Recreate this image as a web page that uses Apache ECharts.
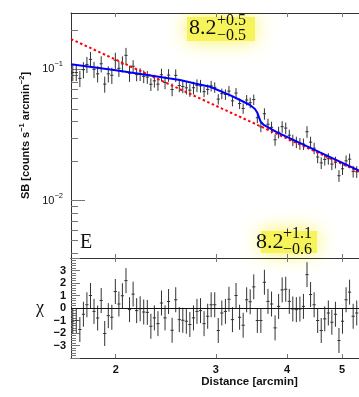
<!DOCTYPE html>
<html>
<head>
<meta charset="utf-8">
<script src="https://cdn.jsdelivr.net/npm/echarts@6/dist/echarts.min.js"></script>
<style>
  html, body { margin: 0; padding: 0; background: #fff; }
  #chart { width: 359px; height: 397px; }
</style>
</head>
<body>
<div id="chart"></div>
<script>
// surface brightness profile, distance in arcmin
const radius = [
  1.681, 1.705, 1.730, 1.755, 1.780, 1.806, 1.832, 1.859, 1.886, 1.913,
  1.941, 1.969, 1.997, 2.026, 2.055, 2.085, 2.115, 2.146, 2.177, 2.208,
  2.240, 2.273, 2.306, 2.339, 2.373, 2.407, 2.442, 2.477, 2.513, 2.550,
  2.587, 2.624, 2.662, 2.700, 2.740, 2.779, 2.819, 2.860, 2.902, 2.943,
  2.986, 3.029, 3.073, 3.118, 3.163, 3.208, 3.255, 3.302, 3.350, 3.398,
  3.447, 3.497, 3.548, 3.599, 3.651, 3.704, 3.758, 3.812, 3.867, 3.923,
  3.980, 4.038, 4.096, 4.155, 4.215, 4.276, 4.338, 4.401, 4.465, 4.529,
  4.595, 4.661, 4.729, 4.797, 4.867, 4.937, 5.008, 5.081, 5.154, 5.229,
  5.305
];
const sb = [
  0.0946, 0.0946, 0.0853, 0.0993, 0.1089, 0.1190, 0.0999, 0.0924, 0.1102, 0.0772,
  0.0924, 0.0901, 0.1172, 0.1018, 0.1100, 0.1277, 0.0933, 0.1056, 0.0911, 0.0916,
  0.0883, 0.0872, 0.0769, 0.0817, 0.0771, 0.0909, 0.0794, 0.0903, 0.0702, 0.0899,
  0.0753, 0.0740, 0.0723, 0.0694, 0.0724, 0.0754, 0.0748, 0.0676, 0.0703, 0.0748,
  0.0729, 0.0593, 0.0653, 0.0644, 0.0683, 0.0575, 0.0660, 0.0549, 0.0504, 0.0584,
  0.0557, 0.0589, 0.0428, 0.0365, 0.0459, 0.0382, 0.0362, 0.0291, 0.0332, 0.0366,
  0.0357, 0.0315, 0.0289, 0.0279, 0.0272, 0.0270, 0.0335, 0.0279, 0.0251, 0.0215,
  0.0194, 0.0206, 0.0209, 0.0190, 0.0196, 0.0155, 0.0175, 0.0201, 0.0207, 0.0167,
  0.0166
];
const sbErr = [
  0.0133, 0.0133, 0.0120, 0.0140, 0.0153, 0.0167, 0.0140, 0.0130, 0.0155, 0.0108,
  0.0130, 0.0127, 0.0165, 0.0143, 0.0155, 0.0179, 0.0131, 0.0117, 0.0101, 0.0102,
  0.0098, 0.0097, 0.0085, 0.0091, 0.0086, 0.0101, 0.0088, 0.0100, 0.0078, 0.0100,
  0.0084, 0.0082, 0.0080, 0.0077, 0.0080, 0.0084, 0.0083, 0.0062, 0.0064, 0.0069,
  0.0067, 0.0054, 0.0060, 0.0059, 0.0063, 0.0053, 0.0060, 0.0050, 0.0046, 0.0053,
  0.0051, 0.0054, 0.0039, 0.0033, 0.0046, 0.0039, 0.0037, 0.0029, 0.0034, 0.0037,
  0.0036, 0.0032, 0.0029, 0.0028, 0.0028, 0.0027, 0.0034, 0.0028, 0.0025, 0.0022,
  0.0020, 0.0021, 0.0021, 0.0019, 0.0020, 0.0016, 0.0018, 0.0020, 0.0021, 0.0017,
  0.0017
];
// residuals (chi) of the fit
const chi = [
  -1.06, -1.00, -1.72, -0.50, 0.26, 1.00, -0.27, -0.80, 0.60, -2.04,
  -0.61, -0.74, 1.32, 0.32, 0.98, 2.19, -0.13, 1.11, -0.21, -0.06,
  -0.32, -0.35, -1.46, -0.79, -1.25, 0.40, -0.79, 0.52, -1.78, 0.66,
  -0.93, -0.98, -1.06, -1.32, -0.79, -0.27, -0.21, -1.25, -0.66, 0.26,
  0.26, -1.80, -0.40, -0.27, 0.70, -0.93, 1.00, -0.74, -1.38, 0.66,
  0.50, 1.69, -1.00, -1.00, 2.06, 0.53, 0.32, -1.59, 0.13, 1.45,
  1.50, 0.53, -0.08, -0.13, -0.08, 0.13, 2.67, 1.08, 0.26, -1.00,
  -1.80, -0.87, -0.40, -1.14, -0.50, -2.60, -1.06, 0.66, 1.27, -0.66,
  -0.40
];
const chiErr = 1;
// best-fit model (blue) and single power law (red dashed)
const modelR  = [1.669, 2.000, 2.594, 2.757, 2.930, 3.176, 3.307, 3.444, 3.514, 3.550, 3.594, 3.635, 3.837, 4.105, 4.572, 5.354];
const modelSB = [0.1091, 0.0984, 0.0829, 0.0781, 0.0737, 0.0637, 0.0584, 0.0535, 0.0499, 0.0465, 0.0401, 0.0380, 0.0333, 0.0290, 0.0233, 0.01697];
const plawR  = [1.669, 5.354];
const plawSB = [0.170, 0.01663];

const xTicks = [2, 3, 4, 5];
const sbMajor = [0.01, 0.1];
const sbMinor = [0.004, 0.005, 0.006, 0.007, 0.008, 0.009, 0.02, 0.03, 0.04, 0.05, 0.06, 0.07, 0.08, 0.09, 0.2];
const chiLabels = [-3, -2, -1, 0, 1, 2, 3];

const xMin = 1.669, xMax = 5.354;
const sbMin = 0.003664, sbMax = 0.2683;

const sans = '"Liberation Sans", Arial, sans-serif';
const serif = '"Liberation Serif", "Times New Roman", serif';
const frame = '#333';
const tickCol = '#777';

const chart = echarts.init(document.getElementById('chart'));

function errCross(params, api) {
  const x = api.value(0), y = api.value(1), e = api.value(2);
  const c = api.coord([x, y]);
  const hi = api.coord([x, y + e]);
  const lo = api.coord([x, y - e]);
  const st = { stroke: '#333', lineWidth: 1 };
  return {
    type: 'group',
    children: [
      { type: 'line', shape: { x1: c[0], y1: hi[1], x2: c[0], y2: lo[1] }, style: st },
      { type: 'line', shape: { x1: c[0] - 1.6, y1: c[1], x2: c[0] + 1.6, y2: c[1] }, style: st }
    ]
  };
}

function xAxis(grid, pos, withLabels) {
  return {
    type: 'log', gridIndex: grid, position: pos, min: xMin, max: xMax,
    axisLine: { show: true, onZero: false, lineStyle: { color: frame, width: 1 } },
    axisTick: { show: true, inside: true, length: 4, customValues: xTicks, lineStyle: { color: tickCol } },
    axisLabel: withLabels ? {
      show: true, customValues: xTicks, margin: 6,
      fontFamily: sans, fontWeight: 'bold', fontSize: 11, color: '#111'
    } : { show: false },
    splitLine: { show: false },
    name: withLabels ? 'Distance [arcmin]' : '',
    nameLocation: 'middle', nameGap: 18,
    nameTextStyle: { fontFamily: sans, fontWeight: 'bold', fontSize: 11.5, color: '#111', padding: [0, 0, 0, 69] }
  };
}

const sup = { fontFamily: sans, fontSize: 7.5, verticalAlign: 'top', color: '#111' };
const glow = { fill: '#f7f35a', shadowBlur: 20, shadowColor: '#f7f35a' };

const option = {
  animation: false,
  backgroundColor: '#fff',
  grid: [
    { left: 71, right: 0, top: 13, height: 245 },
    { left: 71, right: 0, top: 258, height: 100 }
  ],
  xAxis: [
    xAxis(0, 'bottom', false),
    xAxis(0, 'top', false),
    xAxis(1, 'bottom', true),
    xAxis(1, 'top', false)
  ],
  yAxis: [
    {
      type: 'log', gridIndex: 0, position: 'left', min: sbMin, max: sbMax,
      axisLine: { show: true, onZero: false, lineStyle: { color: frame } },
      axisTick: { show: true, inside: true, length: 14, customValues: sbMajor, lineStyle: { color: tickCol } },
      axisLabel: {
        show: true, customValues: sbMajor, margin: 8,
        formatter: v => '{b|10}{s|\u2212' + Math.round(-Math.log10(v)) + '}',
        rich: {
          b: { fontFamily: sans, fontSize: 11, color: '#111', lineHeight: 18 },
          s: { fontFamily: sans, fontSize: 7.5, color: '#111', verticalAlign: 'top' }
        }
      },
      splitLine: { show: false },
      name: '{n|SB [counts s}{s|\u22121}{n| arcmin}{s|\u22122}{n|]}',
      nameLocation: 'middle', nameGap: 32,
      nameTextStyle: {
        rich: {
          n: { fontFamily: sans, fontWeight: 'bold', fontSize: 11, color: '#111', lineHeight: 16 },
          s: Object.assign({ fontWeight: 'bold' }, sup)
        }
      }
    },
    {
      type: 'log', gridIndex: 0, position: 'left', min: sbMin, max: sbMax,
      axisLine: { show: false },
      axisTick: { show: true, inside: true, length: 7, customValues: sbMinor, lineStyle: { color: tickCol } },
      axisLabel: { show: false },
      splitLine: { show: false }
    },
    {
      type: 'value', gridIndex: 1, position: 'left', min: -4, max: 4, interval: 1,
      axisLine: { show: true, onZero: false, lineStyle: { color: frame } },
      axisTick: { show: true, inside: true, length: 9, lineStyle: { color: tickCol } },
      minorTick: { show: true, splitNumber: 5, length: 5, lineStyle: { color: tickCol } },
      axisLabel: {
        show: true, customValues: chiLabels, margin: 5,
        formatter: v => (v < 0 ? '\u2212' + Math.abs(v) : String(v)),
        fontFamily: sans, fontWeight: 'bold', fontSize: 11, color: '#111'
      },
      splitLine: { show: false },
      name: '\u03c7', nameLocation: 'middle', nameRotate: 0, nameGap: 27,
      nameTextStyle: { fontFamily: serif, fontSize: 18, color: '#111' }
    }
  ],
  series: [
    {
      type: 'custom', name: 'data', xAxisIndex: 0, yAxisIndex: 0, clip: true,
      renderItem: errCross,
      data: radius.map((r, i) => [r, sb[i], sbErr[i]]),
      z: 3
    },
    {
      type: 'line', name: 'power law', xAxisIndex: 0, yAxisIndex: 0,
      showSymbol: false, symbol: 'none',
      lineStyle: { color: '#ff0000', width: 2, type: [2.5, 2.5] },
      data: plawR.map((r, i) => [r, plawSB[i]]),
      z: 4
    },
    {
      type: 'line', name: 'model', xAxisIndex: 0, yAxisIndex: 0,
      showSymbol: false, symbol: 'none',
      lineStyle: { color: '#0000ff', width: 2 },
      data: modelR.map((r, i) => [r, modelSB[i]]),
      z: 5
    },
    {
      type: 'custom', name: 'chi', xAxisIndex: 2, yAxisIndex: 2, clip: true,
      renderItem: errCross,
      data: radius.map((r, i) => [r, chi[i], chiErr]),
      markLine: {
        silent: true, symbol: 'none', label: { show: false },
        lineStyle: { color: '#111', width: 1, type: 'solid' },
        data: [{ yAxis: 0 }]
      }
    }
  ],
  graphic: [
    { type: 'rect', z: -2, shape: { x: 187, y: 17, width: 68, height: 24 }, style: glow },
    { type: 'rect', z: -2, shape: { x: 261, y: 231, width: 56, height: 22 }, style: glow },
    { type: 'rect', z: -1, shape: { x: 0, y: 0, width: 359, height: 12.5 }, style: { fill: '#fff' } },
    { type: 'text', z: 10, x: 189, y: 28, style: { text: '8.2', font: '22px ' + serif, fill: '#111', verticalAlign: 'middle' } },
    { type: 'text', z: 10, x: 217, y: 21, style: { text: '+0.5', font: '16px ' + serif, fill: '#111', verticalAlign: 'middle' } },
    { type: 'text', z: 10, x: 217, y: 35.5, style: { text: '\u22120.5', font: '16px ' + serif, fill: '#111', verticalAlign: 'middle' } },
    { type: 'text', z: 10, x: 256, y: 242.5, style: { text: '8.2', font: '22px ' + serif, fill: '#111', verticalAlign: 'middle' } },
    { type: 'text', z: 10, x: 283, y: 234, style: { text: '+1.1', font: '16px ' + serif, fill: '#111', verticalAlign: 'middle' } },
    { type: 'text', z: 10, x: 283, y: 249.5, style: { text: '\u22120.6', font: '16px ' + serif, fill: '#111', verticalAlign: 'middle' } },
    { type: 'text', z: 10, x: 80, y: 243, style: { text: 'E', font: '20px ' + serif, fill: '#111', verticalAlign: 'middle' } }
  ]
};

chart.setOption(option);
window.addEventListener('resize', function () {
  chart && chart.resize();
});
</script>
</body>
</html>
